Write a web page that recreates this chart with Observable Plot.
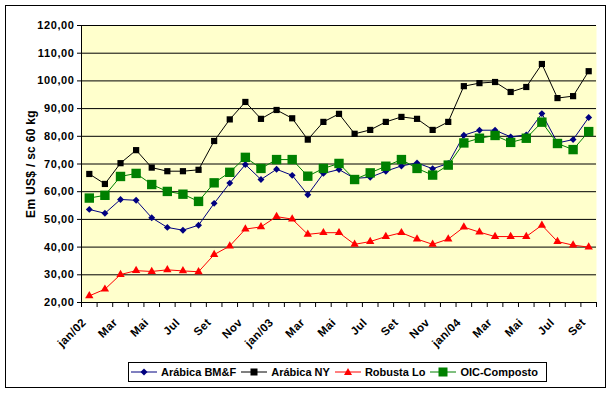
<!DOCTYPE html>
<html>
<head>
<meta charset="utf-8">
<script src="https://cdn.jsdelivr.net/npm/d3@7"></script>
<script src="https://cdn.jsdelivr.net/npm/@observablehq/plot@0.6"></script>
<style>
  html, body { margin: 0; padding: 0; background: #fff; }
  #wrap { position: relative; width: 612px; height: 393px; font-family: "Liberation Sans", Arial, sans-serif; }
  #border { position: absolute; left: 5px; top: 5px; width: 599px; height: 381px; border: 1.5px solid #000; box-sizing: content-box; pointer-events: none; }
  #chart { position: absolute; left: 0; top: 0; }
  #legend { position: absolute; left: 128px; top: 362px; width: 419px; height: 20px; border: 1px solid #000; background: #fff;
            display: flex; align-items: center; font-weight: bold; font-size: 11px; color: #000; box-sizing: border-box; padding-left: 2px; }
  .item { display: flex; align-items: center; margin-right: 5px; white-space: nowrap; }
  .item svg { margin-right: 4px; }
  g[aria-label="y-axis tick label"] text { letter-spacing: 0.6px; }
  g.xlab text { letter-spacing: 0.4px; }
  g.ytitle text { letter-spacing: 0.3px; }
</style>
</head>
<body>
<div id="wrap">
  <div id="chart"></div>
  <div id="border"></div>
  <div id="legend"></div>
</div>
<script>
const months = ["jan/02","fev","Mar","abr","Mai","jun","Jul","ago","Set","out","Nov","dez",
                "jan/03","fev","Mar","abr","Mai","jun","Jul","ago","Set","out","Nov","dez",
                "jan/04","fev","Mar","abr","Mai","jun","Jul","ago","Set"];
const arabicaBMF = [53.6,52.2,57.2,56.9,50.6,47.1,46.1,47.9,55.8,63.1,69.8,64.4,
                    68.1,65.9,58.9,66.6,68.0,64.8,65.2,67.4,69.3,70.4,68.3,70.2,
                    80.4,82.2,82.2,79.8,80.5,88.2,77.6,78.8,86.8];
const arabicaNY = [66.4,62.8,70.3,75.0,68.7,67.4,67.4,67.9,78.3,86.1,92.4,86.3,
                   89.5,86.5,78.8,85.2,88.1,80.9,82.3,85.2,87.0,86.3,82.3,85.2,
                   98.1,99.2,99.6,96.0,97.8,106.1,93.8,94.5,103.5];
const robustaLo = [22.4,24.8,30.1,31.5,31.2,31.8,31.4,31.1,37.3,40.4,46.5,47.3,
                   51.0,50.1,44.6,45.2,45.2,41.0,42.0,43.8,45.2,42.9,41.0,42.9,
                   47.2,45.4,43.8,43.8,43.8,47.9,42.0,40.7,40.0];
const oicComposto = [57.7,58.7,65.5,66.6,62.6,60.1,59.1,56.5,63.2,67.0,72.4,68.4,
                     71.6,71.6,65.6,68.4,70.2,64.4,66.8,69.2,71.6,68.4,66.0,69.6,
                     77.6,79.3,80.3,77.8,79.3,85.1,77.4,75.2,81.7];
const seriesNames = ["Arábica BM&F","Arábica NY","Robusta Lo","OIC-Composto"];
const yTicks = [20,30,40,50,60,70,80,90,100,110,120];

const series = [
  {name: seriesNames[0], values: arabicaBMF, color: "#000080", symbol: "diamond2", r: 3.1, legendShape: "diamond", ms: 7},
  {name: seriesNames[1], values: arabicaNY, color: "#000000", symbol: "square", r: 3.5, legendShape: "square", ms: 7},
  {name: seriesNames[2], values: robustaLo, color: "#FF0000", symbol: "triangle", r: 3.1, legendShape: "triangle", ms: 8},
  {name: seriesNames[3], values: oicComposto, color: "#008000", symbol: "square", r: 5.3, legendShape: "square", ms: 9}
];

const data = [];
series.forEach(s => s.values.forEach((v, i) => data.push({series: s.name, i, v})));
const idx = months.map((m, i) => i);
const boundaries = d3.range(months.length + 1).map(i => i - 0.5);
const labelIdx = idx.filter(i => i % 2 === 0);
const fmt = d => d3.format(".2f")(d).replace(".", ",");

const marks = [
  Plot.frame({fill: "#FFFFCC", stroke: null}),
  Plot.ruleY(yTicks.slice(1), {stroke: "#000", strokeWidth: 1}),
  Plot.axisY({ticks: yTicks, tickFormat: fmt, tickSize: 4, tickPadding: 3, fontSize: 11, fontWeight: "bold", label: null, stroke: "#000"}),
  Plot.axisX({ticks: boundaries, tickSize: 5, tickFormat: () => "", label: null, stroke: "#000"}),
  Plot.axisX({ticks: labelIdx, tickSize: 0, tickFormat: i => months[i], tickRotate: -45, tickPadding: 18, dx: -5, fontSize: 11.5, fontWeight: "bold", label: null, className: "xlab"}),
  Plot.frame({anchor: "left", stroke: "#000"}),
  Plot.frame({anchor: "bottom", stroke: "#000"})
];
series.forEach(s => {
  const d = data.filter(e => e.series === s.name);
  marks.push(Plot.line(d, {x: "i", y: "v", stroke: s.color, strokeWidth: 1}));
  marks.push(Plot.dot(d, {x: "i", y: "v", symbol: s.symbol, r: s.r, fill: s.color, stroke: null}));
});
marks.push(Plot.text(["Em US$ / sc 60 kg"], {frameAnchor: "left", dx: -50, rotate: -90, fontSize: 12, fontWeight: "bold", textAnchor: "middle", className: "ytitle"}));

const chart = Plot.plot({
  width: 612, height: 393,
  marginLeft: 81, marginRight: 16, marginTop: 25, marginBottom: 91,
  x: {type: "linear", domain: [-0.5, months.length - 0.5]},
  y: {domain: [20, 120]},
  style: {fontFamily: "'Liberation Sans', Arial, sans-serif", color: "#000", background: "transparent", overflow: "visible"},
  marks
});
document.getElementById("chart").appendChild(chart);

// legend
const legend = document.getElementById("legend");
series.forEach(s => {
  const item = document.createElement("div");
  item.className = "item";
  let shape;
  const c = 13, h = s.ms / 2;
  if (s.legendShape === "diamond") shape = `<path d="M${c},${8-h} L${c+h},8 L${c},${8+h} L${c-h},8Z" fill="${s.color}"/>`;
  else if (s.legendShape === "triangle") shape = `<path d="M${c},${8-h} L${c+h},${8+h*0.75} L${c-h},${8+h*0.75}Z" fill="${s.color}"/>`;
  else shape = `<rect x="${c-h}" y="${8-h}" width="${s.ms}" height="${s.ms}" fill="${s.color}"/>`;
  item.innerHTML = `<svg width="26" height="16"><line x1="0" x2="26" y1="8" y2="8" stroke="${s.color}" stroke-width="1"/>${shape}</svg><span>${s.name}</span>`;
  legend.appendChild(item);
});
</script>
</body>
</html>
